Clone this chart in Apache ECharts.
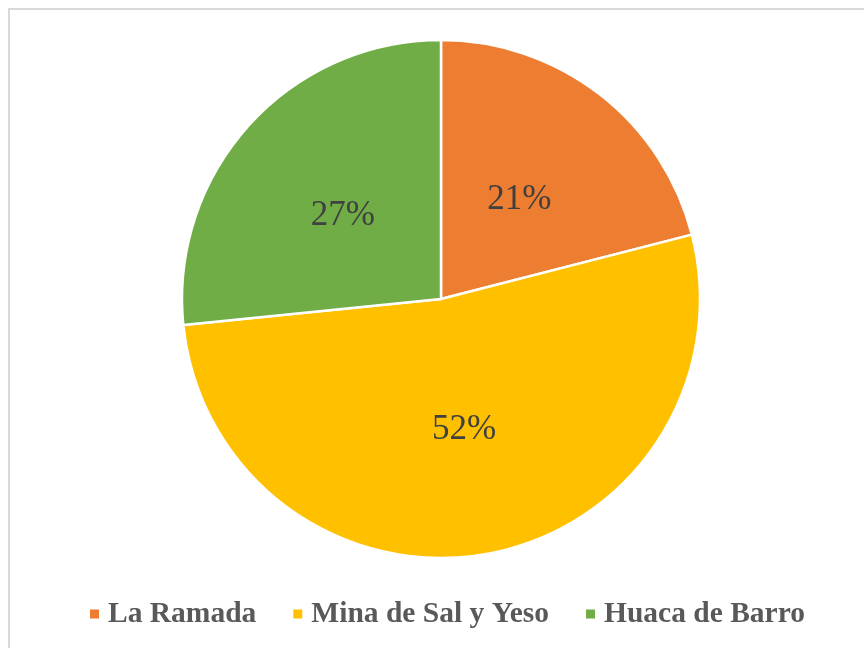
<!DOCTYPE html>
<html>
<head>
<meta charset="utf-8">
<script src="https://cdn.jsdelivr.net/npm/echarts@6/dist/echarts.min.js"></script>
<style>
  html, body { margin: 0; padding: 0; background: #fff; }
  #chart { width: 864px; height: 648px; }
</style>
</head>
<body>
<div id="chart"></div>
<script>
// datos del grafico
var categorias = ['La Ramada', 'Mina de Sal y Yeso', 'Huaca de Barro'];
var valores = [21, 52.4, 26.6];
var colores = ['#ED7D31', '#FFC000', '#70AD47'];
// ajuste fino de las etiquetas (estilo)
var ajusteEtiqueta = [[-3, 6], [0, 0], [0, 6]];

var datos = [];
for (var i = 0; i < categorias.length; i++) {
    datos.push({
        name: categorias[i],
        value: valores[i],
        itemStyle: { color: colores[i] },
        label: { offset: ajusteEtiqueta[i] }
    });
}

var myChart = echarts.init(document.getElementById('chart'));
var option = {
    backgroundColor: '#fff',
    graphic: [{
        type: 'rect',
        shape: { x: 9, y: 9, width: 870, height: 650 },
        style: { fill: 'none', stroke: '#d9d9d9', lineWidth: 2 },
        silent: true
    }],
    legend: {
        bottom: 14,
        left: 83,
        itemWidth: 11,
        itemHeight: 11,
        itemGap: 35,
        icon: 'rect',
        textStyle: {
            fontFamily: 'Liberation Serif',
            fontWeight: 'bold',
            fontSize: 29.5,
            color: '#595959',
            padding: [0, 0, 0, 3]
        },
        data: categorias
    },
    series: [{
        type: 'pie',
        center: [441, 299],
        radius: [0, 259],
        startAngle: 90,
        clockwise: true,
        animation: false,
        itemStyle: { borderColor: '#fff', borderWidth: 2.5 },
        label: {
            position: 'inside',
            formatter: function (p) { return Math.round(p.percent) + '%'; },
            fontFamily: 'Liberation Serif',
            fontSize: 35,
            color: '#404040'
        },
        labelLine: { show: false },
        emphasis: { disabled: true },
        data: datos
    }]
};
myChart.setOption(option);
</script>
</body>
</html>
